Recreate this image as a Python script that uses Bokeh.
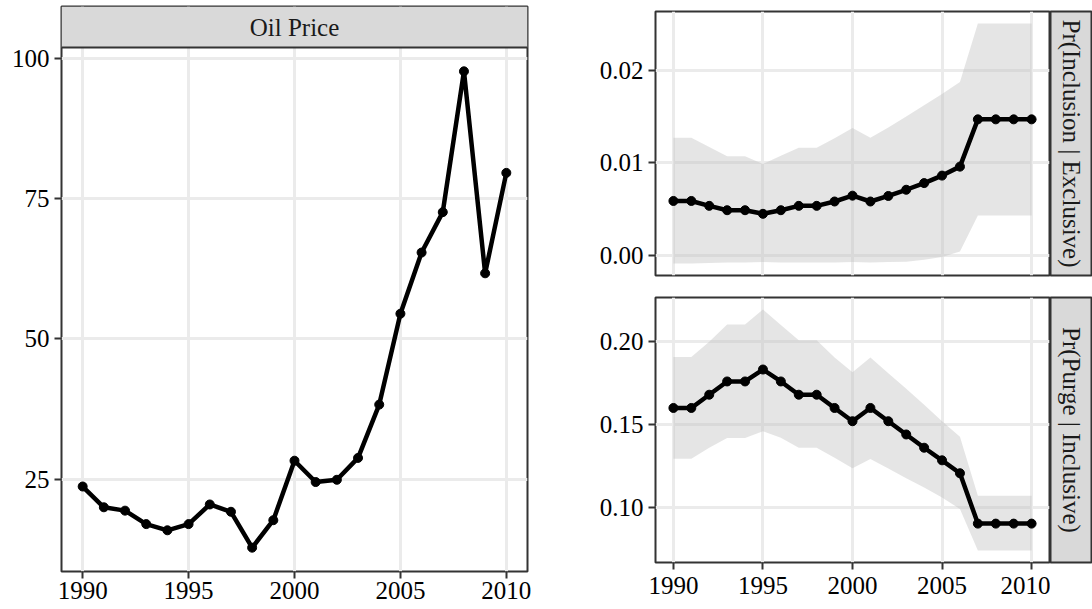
from math import pi

from bokeh.core.properties import value
from bokeh.embed import file_html
from bokeh.layouts import column, row
from bokeh.models import FixedTicker, PrintfTickFormatter, Range1d, Span
from bokeh.plotting import figure
from bokeh.resources import INLINE

# ---- data -------------------------------------------------------------
years = list(range(1990, 2011))

oil_price = [23.7, 20.0, 19.4, 17.0, 15.9, 17.0, 20.5, 19.2, 12.8, 17.7, 28.3,
             24.5, 24.9, 28.8, 38.3, 54.5, 65.4, 72.6, 97.7, 61.7, 79.6]

incl_mean = [0.00586, 0.00586, 0.00533, 0.00486, 0.00486, 0.00447, 0.00486,
             0.00533, 0.00533, 0.00580, 0.00643, 0.00580, 0.00640, 0.00707,
             0.00779, 0.00860, 0.00957, 0.01468, 0.01468, 0.01468, 0.01468]
incl_upper = [0.01268, 0.01268, 0.01168, 0.01068, 0.01068, 0.00986, 0.01075,
              0.01160, 0.01160, 0.01265, 0.01375, 0.01268, 0.01380, 0.01500,
              0.01620, 0.01743, 0.01872, 0.02504, 0.02504, 0.02504, 0.02504]
incl_lower = [-0.00090, -0.00090, -0.00085, -0.00080, -0.00080, -0.00075,
              -0.00080, -0.00080, -0.00080, -0.00078, -0.00075, -0.00080,
              -0.00075, -0.00070, -0.00050, -0.00020, 0.00040, 0.00429,
              0.00429, 0.00429, 0.00429]

purge_mean = [0.1600, 0.1600, 0.1680, 0.1760, 0.1760, 0.1832, 0.1760, 0.1680,
              0.1680, 0.1600, 0.1520, 0.1600, 0.1520, 0.1440, 0.1360, 0.1284,
              0.1206, 0.0902, 0.0902, 0.0902, 0.0902]
purge_upper = [0.1908, 0.1908, 0.2000, 0.2104, 0.2104, 0.2194, 0.2100, 0.2008,
               0.2008, 0.1904, 0.1816, 0.1904, 0.1810, 0.1716, 0.1620, 0.1520,
               0.1426, 0.1070, 0.1070, 0.1070, 0.1070]
purge_lower = [0.1294, 0.1294, 0.1360, 0.1418, 0.1418, 0.1460, 0.1420, 0.1360,
               0.1360, 0.1300, 0.1236, 0.1292, 0.1234, 0.1176, 0.1120, 0.1060,
               0.0990, 0.0740, 0.0740, 0.0740, 0.0740]

year_ticks = [1990, 1995, 2000, 2005, 2010]
oil_ticks = [25, 50, 75, 100]
incl_ticks = [0.00, 0.01, 0.02]
purge_ticks = [0.10, 0.15, 0.20]

oil_title = "Oil Price"
incl_title = "Pr(Inclusion | Exclusive)"
purge_title = "Pr(Purge | Inclusive)"

# ---- style ------------------------------------------------------------
FONT = "Liberation Serif"
FSIZE = "25px"
BORDER = "#333333"
GRID = "#EBEBEB"
STRIP_BG = "#D9D9D9"
X_LIMITS = (1989, 2011)


def padded(lo, hi, frac=0.05):
    span = hi - lo
    return lo - frac * span, hi + frac * span


def style_panel(p, yticks, yfmt, show_x, x_standoff):
    p.background_fill_color = "white"
    p.border_fill_color = "white"
    p.outline_line_color = BORDER
    p.outline_line_width = 2
    p.xgrid.ticker = FixedTicker(ticks=year_ticks)
    p.ygrid.ticker = FixedTicker(ticks=yticks)
    for g in (p.xgrid[0], p.ygrid[0]):
        g.grid_line_color = GRID
        g.grid_line_width = 3
    for ax in p.yaxis:
        ax.ticker = FixedTicker(ticks=yticks)
        ax.formatter = PrintfTickFormatter(format=yfmt)
        ax.major_label_standoff = 5
    for ax in p.xaxis:
        ax.ticker = FixedTicker(ticks=year_ticks)
        ax.visible = show_x
        ax.major_label_standoff = x_standoff
    for ax in list(p.xaxis) + list(p.yaxis):
        ax.axis_line_color = None
        ax.major_tick_line_color = BORDER
        ax.major_tick_line_width = 2
        ax.major_tick_out = 7
        ax.major_tick_in = 0
        ax.minor_tick_line_color = None
        ax.major_label_text_font = FONT
        ax.major_label_text_font_size = FSIZE
        ax.major_label_text_color = "black"


def side_strip(width, height, label, borders):
    """Facet label box to the right of a panel (text runs top to bottom)."""
    top, right, bottom, left = borders
    s = figure(width=width, height=height, x_range=Range1d(0, 1),
               y_range=Range1d(0, 1), output_backend="svg",
               toolbar_location=None, min_border_top=top,
               min_border_right=right, min_border_bottom=bottom,
               min_border_left=left)
    s.axis.visible = False
    s.grid.visible = False
    s.background_fill_color = STRIP_BG
    s.border_fill_color = "white"
    s.outline_line_color = BORDER
    s.outline_line_width = 2
    s.text(x=[0.5], y=[0.5], text=[label], angle=-pi / 2,
           text_align="center", text_baseline="middle",
           text_font=value(FONT), text_font_size=FSIZE, text_color="#1A1A1A")
    return s


def series(p, y, lower=None, upper=None):
    if lower is not None:
        p.varea(x=years, y1=lower, y2=upper, fill_color="#BEBEBE",
                fill_alpha=0.4)
    p.line(years, y, line_color="black", line_width=4.5)
    p.scatter(years, y, size=9, fill_color="black", line_color="black")


# ---- left: oil price, with its facet header drawn on top of the frame --
OIL_H, OIL_TOP, OIL_BOTTOM, STRIP_PX = 609, 6, 38, 41
oil_lo, oil_hi = padded(min(oil_price), max(oil_price))
panel_px = OIL_H - OIL_TOP - OIL_BOTTOM - STRIP_PX
strip_top = oil_hi + (oil_hi - oil_lo) * STRIP_PX / panel_px

oil = figure(width=560, height=OIL_H, output_backend="svg",
             toolbar_location=None, x_range=Range1d(*X_LIMITS),
             y_range=Range1d(oil_lo, strip_top),
             min_border_top=OIL_TOP, min_border_right=33,
             min_border_bottom=OIL_BOTTOM, min_border_left=61)
series(oil, oil_price)
style_panel(oil, oil_ticks, "%d", True, 3)

oil.quad(left=[X_LIMITS[0]], right=[X_LIMITS[1]], bottom=[oil_hi],
         top=[strip_top], fill_color=STRIP_BG, line_color=None)
oil.add_layout(Span(location=oil_hi, dimension="width", line_color=BORDER,
                    line_width=2))
oil.text(x=[sum(X_LIMITS) / 2], y=[(oil_hi + strip_top) / 2], text=[oil_title],
         text_align="center", text_baseline="middle", text_font=value(FONT),
         text_font_size=FSIZE, text_color="#1A1A1A")

# ---- right: predicted probabilities -----------------------------------
incl = figure(width=490, height=286, output_backend="svg", toolbar_location=None,
              x_range=Range1d(*X_LIMITS),
              y_range=Range1d(*padded(min(incl_lower), max(incl_upper))),
              min_border_top=11, min_border_right=1, min_border_bottom=11,
              min_border_left=95)
series(incl, incl_mean, incl_lower, incl_upper)
style_panel(incl, incl_ticks, "%.2f", False, 7)
incl_strip = side_strip(42, 286, incl_title, (11, 1, 11, 0))

purge = figure(width=490, height=323, output_backend="svg", toolbar_location=None,
               x_range=Range1d(*X_LIMITS),
               y_range=Range1d(*padded(min(purge_lower), max(purge_upper))),
               min_border_top=11, min_border_right=1, min_border_bottom=47,
               min_border_left=95)
series(purge, purge_mean, purge_lower, purge_upper)
style_panel(purge, purge_ticks, "%.2f", True, 7)
purge_strip = side_strip(42, 323, purge_title, (11, 1, 47, 0))

right = column(row(incl, incl_strip, spacing=0),
               row(purge, purge_strip, spacing=0), spacing=0)

layout = row(oil, right, spacing=0)

with open("out.html", "w") as f:
    f.write(file_html(layout, INLINE))
